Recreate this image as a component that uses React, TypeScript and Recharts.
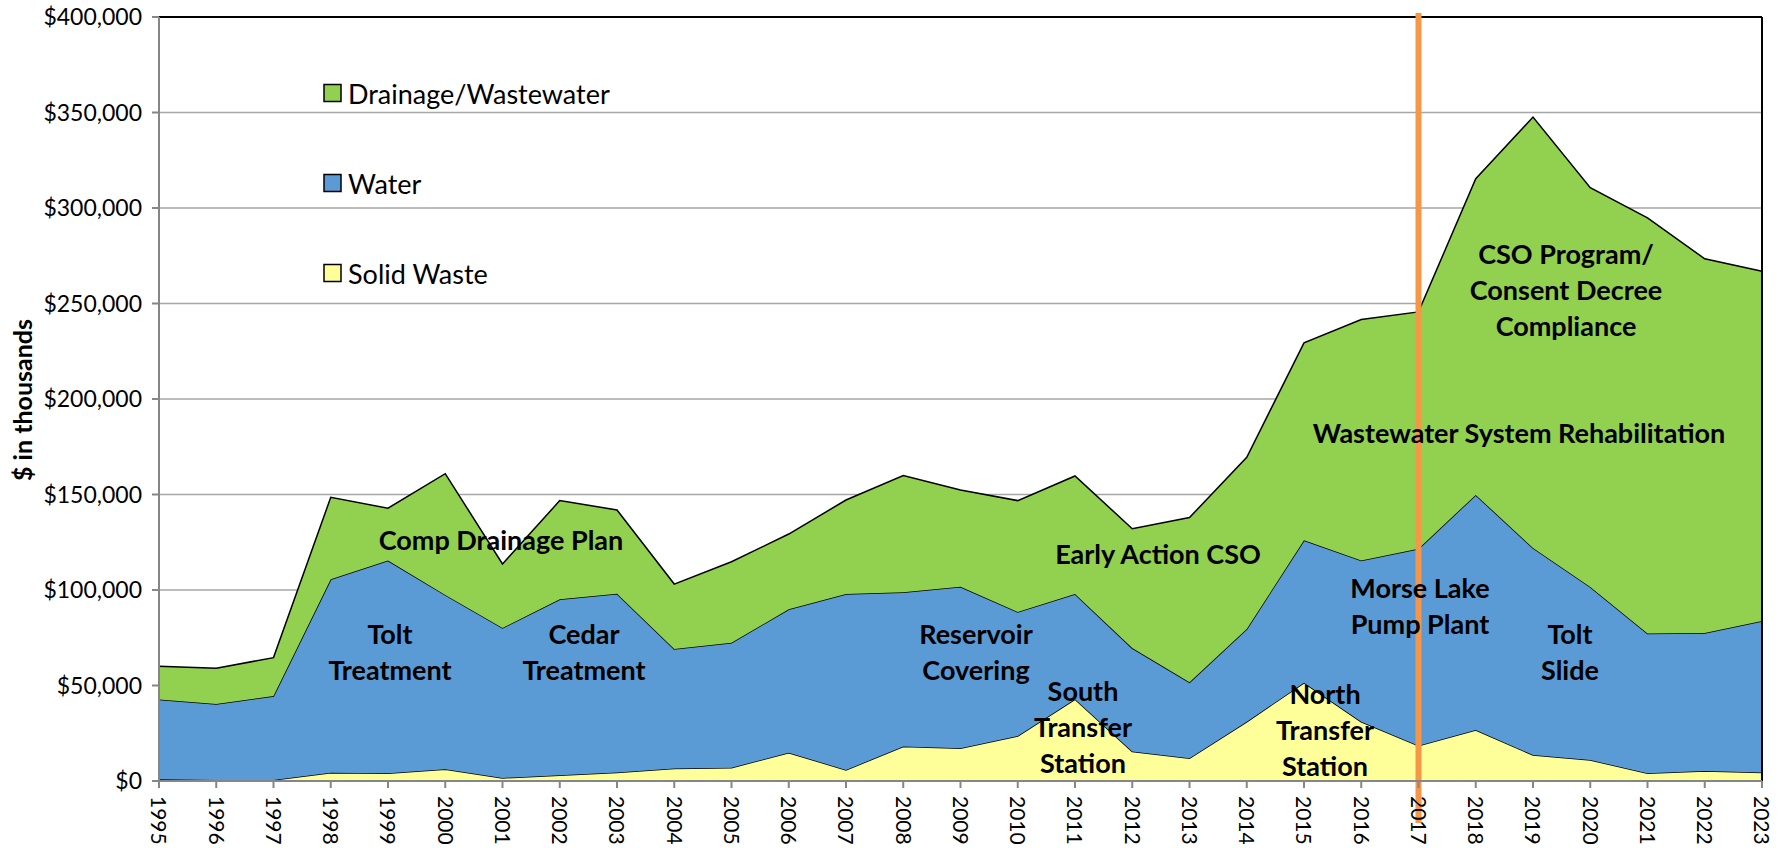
import { Area, AreaChart, CartesianGrid, ReferenceLine, XAxis, YAxis } from "recharts"

const years = [
  "1995", "1996", "1997", "1998", "1999", "2000", "2001", "2002", "2003", "2004",
  "2005", "2006", "2007", "2008", "2009", "2010", "2011", "2012", "2013", "2014",
  "2015", "2016", "2017", "2018", "2019", "2020", "2021", "2022", "2023",
]

// $ in thousands
const solidWaste = [
  900, 500, 500, 4300, 4000, 6100, 1600, 3000, 4500, 6600,
  7000, 14800, 5800, 18000, 17100, 23600, 42800, 15400, 11900, 31000,
  51400, 31000, 18500, 26700, 13600, 11000, 4000, 5200, 4400,
]
const water = [
  41800, 39800, 44000, 101300, 111400, 91300, 78500, 92100, 93600, 62500,
  65400, 75100, 92100, 80800, 84600, 64900, 55100, 54200, 39800, 48600,
  74600, 84500, 103100, 123100, 108400, 90600, 73200, 72300, 79400,
]
const drainage = [
  17400, 18700, 20100, 42900, 27400, 63500, 33500, 51700, 43800, 34000,
  42400, 39400, 49200, 61100, 50700, 58300, 61800, 62500, 86200, 89900,
  103400, 126100, 124000, 165500, 225600, 209000, 217600, 195900, 183100,
]
const yTicks = [0, 50000, 100000, 150000, 200000, 250000, 300000, 350000, 400000]
const forecastStart = "2017"

const legendItems = [
  { name: "Drainage/Wastewater", color: "#92D050" },
  { name: "Water", color: "#5B9BD5" },
  { name: "Solid Waste", color: "#FFFF99" },
]

const data = years.map((year, i) => ({
  year,
  solid: solidWaste[i],
  water: water[i],
  drainage: drainage[i],
}))

const font = "Lato, 'Open Sans', sans-serif"

// project callouts drawn over the plot
const notes = [
  { x: 501, y: 539, lines: ["Comp Drainage Plan"] },
  { x: 390, y: 633, lines: ["Tolt", "Treatment"] },
  { x: 584, y: 633, lines: ["Cedar", "Treatment"] },
  { x: 976, y: 633, lines: ["Reservoir", "Covering"] },
  { x: 1083, y: 690, lines: ["South", "Transfer", "Station"] },
  { x: 1158, y: 553, lines: ["Early Action CSO"] },
  { x: 1325, y: 693, lines: ["North", "Transfer", "Station"] },
  { x: 1420, y: 587, lines: ["Morse Lake", "Pump Plant"] },
  { x: 1570, y: 633, lines: ["Tolt", "Slide"] },
  { x: 1519, y: 432, lines: ["Wastewater System Rehabilitation"] },
  { x: 1566, y: 253, lines: ["CSO Program/", "Consent Decree", "Compliance"] },
]

function YearTick(props: any) {
  const { x, y, payload } = props
  return (
    <text
      transform={`translate(${x},${y}) rotate(90)`}
      dy="0.36em"
      textAnchor="start"
      fontSize={21}
      fontFamily={font}
      fill="#000"
    >
      {payload.value}
    </text>
  )
}

const orangeLine = (props: any) => {
  const x1 = Number(props.x1)
  const x2 = Number(props.x2)
  const y1 = Math.min(Number(props.y1), Number(props.y2))
  const y2 = Math.max(Number(props.y1), Number(props.y2))
  return <line x1={x1} y1={y1 - 4} x2={x2} y2={y2 + 42} stroke="#F79646" strokeWidth={6} />
}

export default function App() {
  return (
    <div style={{ position: "absolute", left: 0, top: 0, width: 1786, height: 848, background: "#fff" }}>
      <AreaChart width={1786} height={848} data={data} margin={{ top: 17, right: 24, bottom: 0, left: 0 }}>
        <CartesianGrid vertical={false} stroke="#A6A6A6" strokeWidth={1.5} />
        <XAxis
          dataKey="year"
          height={67}
          interval={0}
          tick={<YearTick />}
          tickSize={7}
          tickMargin={8}
          stroke="#868686"
          strokeWidth={2}
        />
        <YAxis
          width={159}
          domain={[0, 400000]}
          ticks={yTicks}
          tickSize={7}
          tickMargin={10}
          stroke="#868686"
          strokeWidth={2}
          tick={{ fill: "#000", fontSize: 23, fontFamily: font }}
          tickFormatter={(v) => `$${Number(v).toLocaleString("en-US")}`}
        />
        <Area
          type="linear"
          dataKey="solid"
          name="Solid Waste"
          stackId="a"
          stroke="#000"
          strokeWidth={1.5}
          fill="#FFFF99"
          fillOpacity={1}
          isAnimationActive={false}
        />
        <Area
          type="linear"
          dataKey="water"
          name="Water"
          stackId="a"
          stroke="#000"
          strokeWidth={1.5}
          fill="#5B9BD5"
          fillOpacity={1}
          isAnimationActive={false}
        />
        <Area
          type="linear"
          dataKey="drainage"
          name="Drainage/Wastewater"
          stackId="a"
          stroke="#000"
          strokeWidth={1.5}
          fill="#92D050"
          fillOpacity={1}
          isAnimationActive={false}
        />
        <ReferenceLine y={400000} stroke="#000" strokeWidth={2} />
        <ReferenceLine x="2023" stroke="#000" strokeWidth={2} />
        <ReferenceLine x={forecastStart} ifOverflow="visible" shape={orangeLine} />
      </AreaChart>
      <svg
        width={1786}
        height={848}
        style={{ position: "absolute", left: 0, top: 0, pointerEvents: "none" }}
      >
        <text
          transform="translate(22,400) rotate(-90)"
          textAnchor="middle"
          dominantBaseline="central"
          fontFamily={font}
          fontWeight={700}
          fontSize={25}
          fill="#000"
        >
          $ in thousands
        </text>
        {legendItems.map((it, i) => (
          <g key={it.name} transform={`translate(324,${93 + i * 90})`}>
            <rect x={0} y={-8.5} width={17} height={17} fill={it.color} stroke="#000" strokeWidth={1.5} />
            <text x={24} y={0} dominantBaseline="central" fontFamily={font} fontSize={27} fill="#000">
              {it.name}
            </text>
          </g>
        ))}
        {notes.map((n, i) => (
          <text
            key={i}
            x={n.x}
            y={n.y}
            textAnchor="middle"
            dominantBaseline="central"
            fontFamily={font}
            fontWeight={700}
            fontSize={27}
            fill="#000"
          >
            {n.lines.map((ln, j) => (
              <tspan key={j} x={n.x} dy={j === 0 ? 0 : 36}>
                {ln}
              </tspan>
            ))}
          </text>
        ))}
      </svg>
    </div>
  )
}
